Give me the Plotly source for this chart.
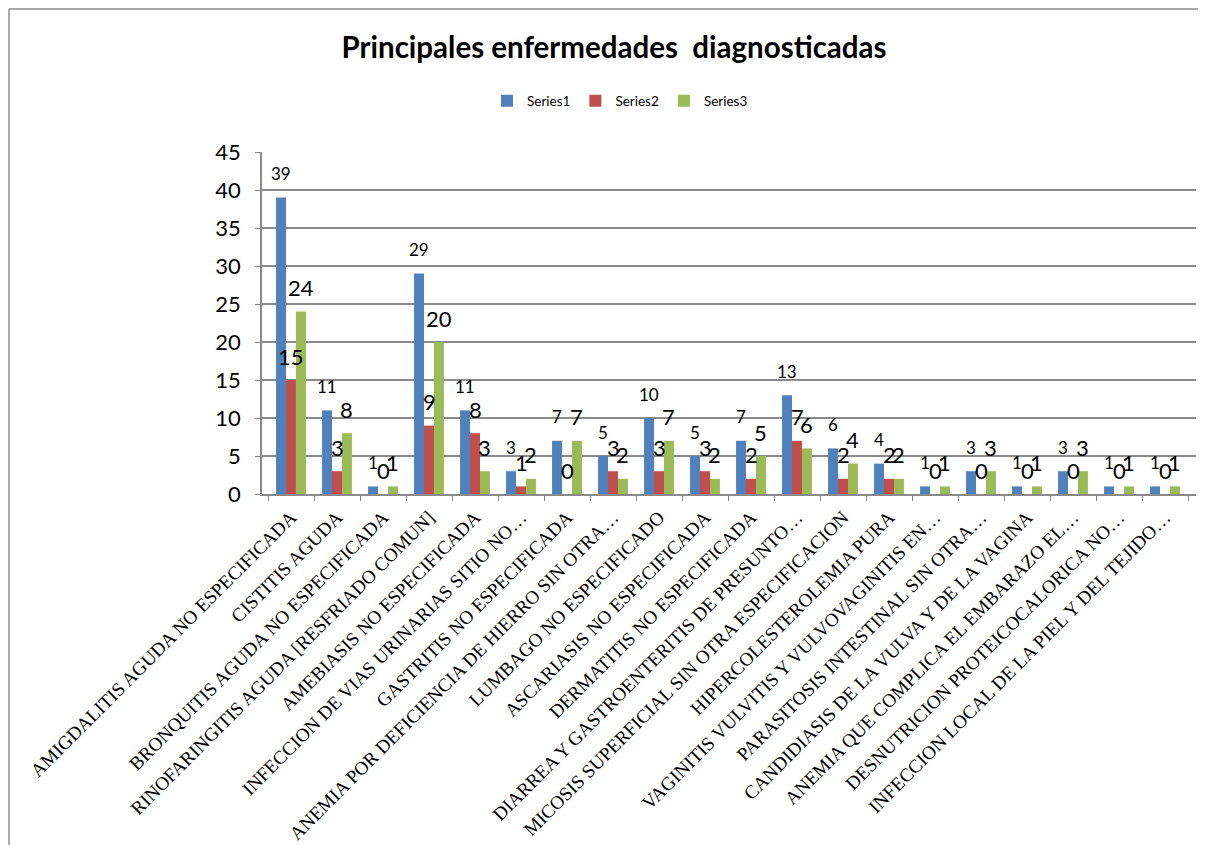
import plotly.graph_objects as go

categories = [
    "AMIGDALITIS AGUDA NO ESPECIFICADA",
    "CISTITIS AGUDA",
    "BRONQUITIS AGUDA NO ESPECIFICADA",
    "RINOFARINGITIS AGUDA [RESFRIADO COMUN]",
    "AMEBIASIS NO ESPECIFICADA",
    "INFECCION DE VIAS URINARIAS SITIO NO…",
    "GASTRITIS NO ESPECIFICADA",
    "ANEMIA POR DEFICIENCIA DE HIERRO SIN OTRA…",
    "LUMBAGO NO ESPECIFICADO",
    "ASCARIASIS NO ESPECIFICADA",
    "DERMATITIS NO ESPECIFICADA",
    "DIARREA Y GASTROENTERITIS DE PRESUNTO…",
    "MICOSIS SUPERFICIAL SIN OTRA ESPECIFICACION",
    "HIPERCOLESTEROLEMIA PURA",
    "VAGINITIS VULVITIS Y VULVOVAGINITIS EN…",
    "PARASITOSIS INTESTINAL SIN OTRA…",
    "CANDIDIASIS DE LA VULVA Y DE LA VAGINA",
    "ANEMIA QUE COMPLICA EL EMBARAZO EL…",
    "DESNUTRICION PROTEICOCALORICA NO…",
    "INFECCION LOCAL DE LA PIEL Y DEL TEJIDO…",
]
series1 = [39, 11, 1, 29, 11, 3, 7, 5, 10, 5, 7, 13, 6, 4, 1, 3, 1, 3, 1, 1]
series2 = [15, 3, 0, 9, 8, 1, 0, 3, 3, 3, 2, 7, 2, 2, 0, 0, 0, 0, 0, 0]
series3 = [24, 8, 1, 20, 3, 2, 7, 2, 7, 2, 5, 6, 4, 2, 1, 3, 1, 3, 1, 1]
series_names = ["Series1", "Series2", "Series3"]
colors = ["#4F81BD", "#C0504D", "#9BBB59"]
y_ticks = [0, 5, 10, 15, 20, 25, 30, 35, 40, 45]

# the page places the figure at (8, 8); sizes below are in figure pixels
W, H = 1198, 837
ML, MR, MT, MB = 254, 10, 144, 351
plot_w = W - ML - MR
plot_h = H - MT - MB
n = len(categories)
cat_px = 46.0
pad_left = 6.0
pad_right = plot_w - pad_left - n * cat_px
x_range = [-0.5 - pad_left / cat_px, n - 0.5 + pad_right / cat_px]
bargap = 0.35
bar_px = cat_px * (1 - bargap) / 3

fig = go.Figure()
all_series = [series1, series2, series3]
for name, vals, col in zip(series_names, all_series, colors):
    fig.add_trace(go.Bar(
        x=categories, y=vals, name=name,
        marker=dict(color=col, line=dict(width=0)),
    ))

label_sizes = [17, 22, 22]
annotations = []
for i, (vals, fs) in enumerate(zip(all_series, label_sizes)):
    for c, v in zip(categories, vals):
        annotations.append(dict(
            x=c, y=v, xref="x", yref="y", text=str(v), showarrow=False,
            xshift=(i - 1) * bar_px, yshift=24, yanchor="middle",
            font=dict(family="Lato, sans-serif", size=fs, color="#000000"),
        ))

border_x = (1 - ML) / plot_w
border_y = 1 + (MT - 1) / plot_h
fig.update_layout(
    width=W, height=H,
    margin=dict(l=ML, r=MR, t=MT, b=MB, autoexpand=False),
    paper_bgcolor="white", plot_bgcolor="white",
    barmode="group", bargap=bargap, bargroupgap=0,
    title=dict(
        text="<b>Principales enfermedades \u00a0diagnosticadas</b>",
        x=606 / W, xref="container", xanchor="center",
        y=1 - 40 / H, yref="container", yanchor="middle",
        font=dict(family="Lato, sans-serif", size=29.5, color="#000000"),
    ),
    legend=dict(
        orientation="h", x=612 / W, xref="container", xanchor="center",
        y=1 - 93 / H, yref="container", yanchor="middle",
        font=dict(family="Lato, sans-serif", size=13.5, color="#000000"),
        itemwidth=30, traceorder="normal",
    ),
    showlegend=True,
    annotations=annotations,
    shapes=[
        dict(type="line", xref="paper", yref="paper",
             x0=border_x, x1=border_x, y0=-(MB + 40) / plot_h, y1=border_y,
             line=dict(color="#8c8c8c", width=1.5), layer="below"),
        dict(type="line", xref="paper", yref="paper",
             x0=border_x, x1=1 + (MR + 40) / plot_w, y0=border_y, y1=border_y,
             line=dict(color="#8c8c8c", width=1.5), layer="below"),
    ],
)
fig.update_yaxes(
    range=[0, 45], tickvals=y_ticks, ticktext=[str(t) for t in y_ticks],
    showgrid=True, gridcolor="#8a8a8a", gridwidth=1.5,
    showline=True, linecolor="#8a8a8a", linewidth=1.5,
    ticks="outside", ticklen=5, tickcolor="#8a8a8a", ticklabelstandoff=10,
    tickfont=dict(family="Lato, sans-serif", size=22, color="#000000"),
    zeroline=False, automargin=False,
)
fig.update_xaxes(
    type="category", range=x_range, tickangle=-45,
    showline=True, linecolor="#8a8a8a", linewidth=1.5,
    ticks="outside", ticklen=5, tickcolor="#8a8a8a", tickson="boundaries",
    ticklabelstandoff=3,
    tickfont=dict(family="Liberation Serif, Times New Roman, serif", size=19, color="#000000"),
    showgrid=False, automargin=False,
)
fig.write_html("out.html")
